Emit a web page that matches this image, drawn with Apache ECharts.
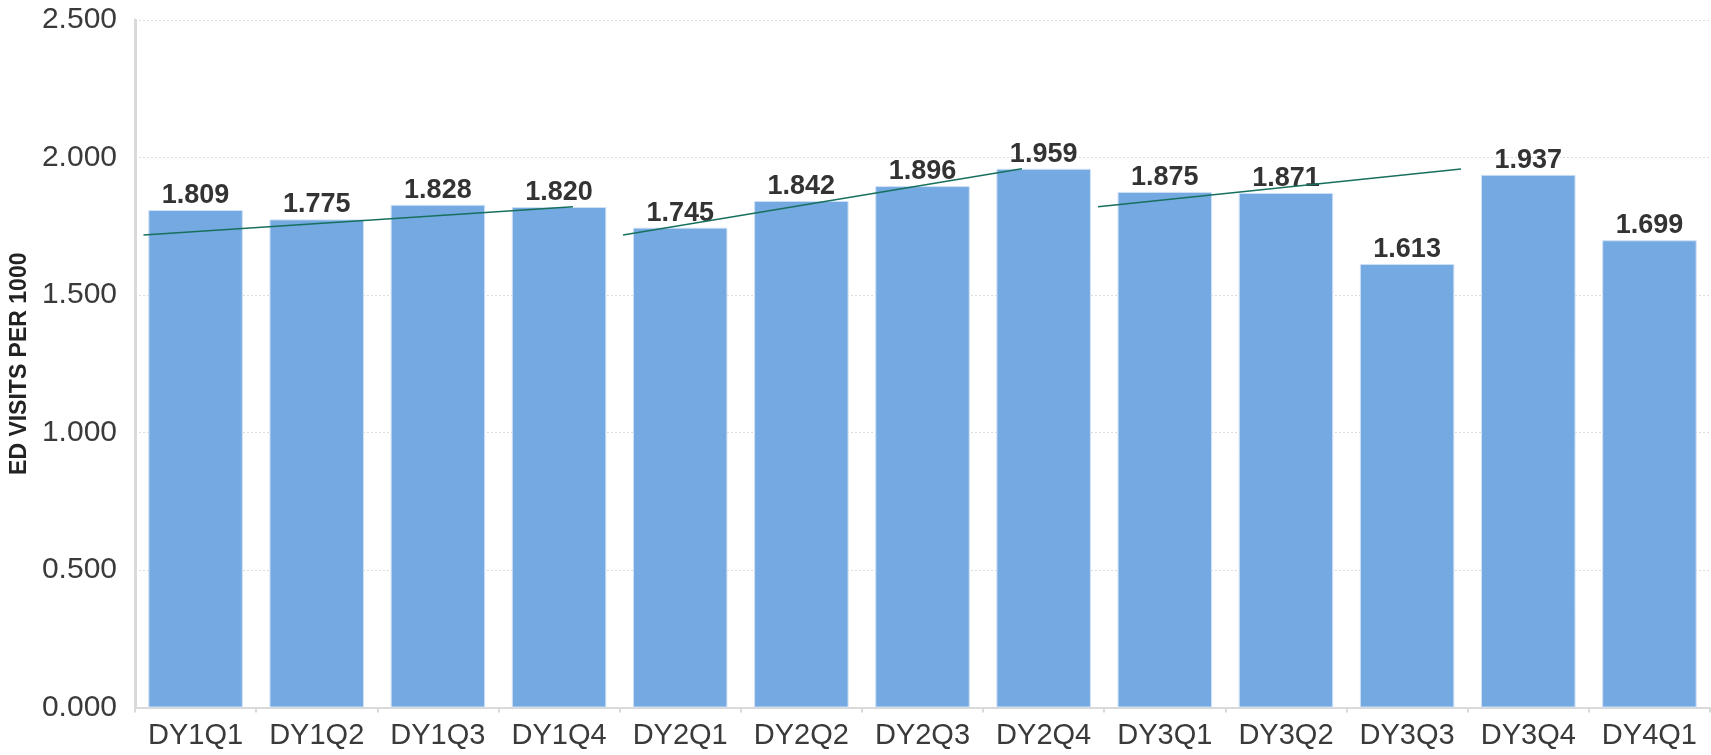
<!DOCTYPE html>
<html>
<head>
<meta charset="utf-8">
<script src="https://cdn.jsdelivr.net/npm/echarts@6/dist/echarts.min.js"></script>
<style>
html,body{margin:0;padding:0;background:#fff;}
#chart{width:1711px;height:755px;}
</style>
</head>
<body>
<div id="chart"></div>
<script>
const categories = ['DY1Q1','DY1Q2','DY1Q3','DY1Q4','DY2Q1','DY2Q2','DY2Q3','DY2Q4','DY3Q1','DY3Q2','DY3Q3','DY3Q4','DY4Q1'];
const edVisits = [1.809,1.775,1.828,1.820,1.745,1.842,1.896,1.959,1.875,1.871,1.613,1.937,1.699];
const yTicks = [0, 0.5, 1.0, 1.5, 2.0, 2.5];
// trend segments: [category position, value]
const trendDY1 = [[-0.43, 1.718], [3.115, 1.821]];
const trendDY2 = [[3.528, 1.718], [6.821, 1.959]];
const trendDY3 = [[7.449, 1.821], [10.445, 1.958]];

const chart = echarts.init(document.getElementById('chart'));
const font = 'Liberation Sans, Arial, sans-serif';
const trendStyle = { color: '#17705e', width: 1.5 };
function trendSeries(d){
  return { type:'line', xAxisIndex:1, data:d, symbol:'none', lineStyle:trendStyle, silent:true, z:5, animation:false };
}
chart.setOption({
  animation:false,
  grid:{ left:135, right:1, top:20, bottom:47.5, containLabel:false },
  xAxis:[{
    type:'category', data:categories,
    axisLine:{ show:true, onZero:false, lineStyle:{ color:'#d9d9d9', width:2 } },
    axisTick:{ show:true, interval:0, length:5, lineStyle:{ color:'#d9d9d9', width:2 } },
    axisLabel:{ interval:0, hideOverlap:false, fontFamily:font, fontSize:29, color:'#3a3a3a', margin:14 }
  },{
    type:'value', min:-0.5, max:12.5, show:false
  }],
  yAxis:{
    type:'value', min:yTicks[0], max:yTicks[yTicks.length-1], interval:0.5,
    name:'ED VISITS PER 1000', nameLocation:'middle', nameGap:104,
    nameTextStyle:{ fontFamily:font, fontSize:23, fontWeight:'bold', color:'#222' },
    axisLine:{ show:true, onZero:false, lineStyle:{ color:'#d9d9d9', width:3 } },
    axisTick:{ show:false },
    axisLabel:{ fontFamily:font, fontSize:30, color:'#3a3a3a', margin:18,
      formatter:v=>v.toFixed(3) },
    splitLine:{ show:true, lineStyle:{ color:'#dcdcdc', type:[2,2], width:1 } }
  },
  series:[{
    type:'bar', data:edVisits, barCategoryGap:'22%',
    itemStyle:{ color:'#75a9e1', borderColor:'#cfe1f5', borderWidth:1 },
    label:{ show:true, position:'top', distance:1, fontFamily:font, fontSize:27, fontWeight:'bold', color:'#333',
      formatter:p=>p.value.toFixed(3) }
  },
  trendSeries(trendDY1), trendSeries(trendDY2), trendSeries(trendDY3)
  ]
});
</script>
</body>
</html>
